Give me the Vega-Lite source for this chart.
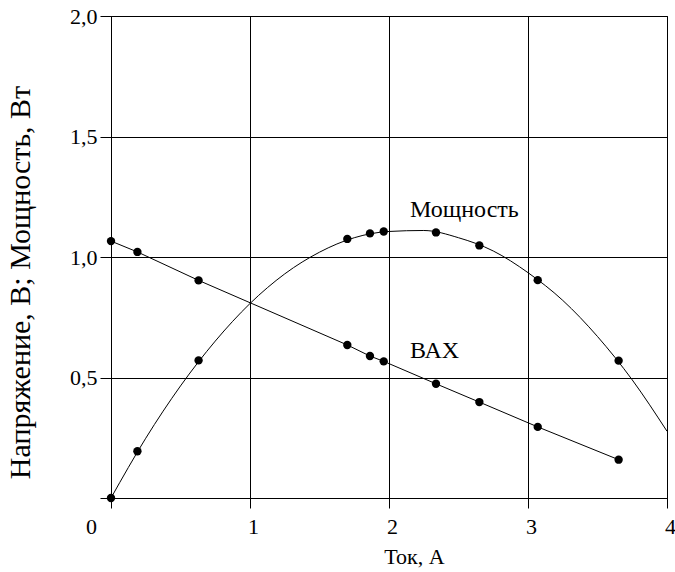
{
  "$schema": "https://vega.github.io/schema/vega-lite/v6.json",
  "autosize": {"type": "none"},
  "padding": {"left": 111, "top": 16, "right": 8, "bottom": 74},
  "width": 556,
  "height": 482,
  "background": "white",
  "config": {
    "font": "'Liberation Serif', 'Times New Roman', Times, serif",
    "view": {"stroke": "black", "strokeWidth": 1},
    "axis": {
      "labelFont": "'Liberation Serif', 'Times New Roman', Times, serif",
      "titleFont": "'Liberation Serif', 'Times New Roman', Times, serif",
      "labelColor": "black",
      "titleColor": "black",
      "titleFontWeight": "normal",
      "domainColor": "black",
      "tickColor": "black",
      "gridColor": "black",
      "gridOpacity": 1,
      "gridWidth": 1,
      "tickWidth": 1,
      "domainWidth": 1
    }
  },
  "datasets": {
    "vax": [
      {"I": 0, "U": 1.066},
      {"I": 0.19, "U": 1.021},
      {"I": 0.63, "U": 0.903},
      {"I": 1.70, "U": 0.635},
      {"I": 1.863, "U": 0.589},
      {"I": 1.962, "U": 0.567},
      {"I": 2.338, "U": 0.474},
      {"I": 2.65, "U": 0.398},
      {"I": 3.07, "U": 0.295},
      {"I": 3.652, "U": 0.159}
    ],
    "power": [
      {"I": 0, "P": 0},
      {"I": 0.19, "P": 0.194},
      {"I": 0.63, "P": 0.571},
      {"I": 1.70, "P": 1.075},
      {"I": 1.863, "P": 1.098},
      {"I": 1.962, "P": 1.106},
      {"I": 2.338, "P": 1.102},
      {"I": 2.65, "P": 1.048},
      {"I": 3.07, "P": 0.904},
      {"I": 3.652, "P": 0.570}
    ],
    "curve": [
      {"I": 0, "P": 0},
      {"I": 0.25, "P": 0.248},
      {"I": 0.5, "P": 0.465},
      {"I": 0.75, "P": 0.651},
      {"I": 1.0, "P": 0.807},
      {"I": 1.25, "P": 0.93},
      {"I": 1.5, "P": 1.02},
      {"I": 1.75, "P": 1.08},
      {"I": 2.0, "P": 1.106},
      {"I": 2.25, "P": 1.11},
      {"I": 2.5, "P": 1.08},
      {"I": 2.75, "P": 1.025},
      {"I": 3.0, "P": 0.935},
      {"I": 3.25, "P": 0.82},
      {"I": 3.5, "P": 0.67},
      {"I": 3.75, "P": 0.49},
      {"I": 4.0, "P": 0.277}
    ],
    "labels": [
      {"I": 2.151, "V": 1.193, "text": "Мощность"},
      {"I": 2.151, "V": 0.612, "text": "ВАХ"}
    ]
  },
  "layer": [
    {
      "data": {"name": "curve"},
      "mark": {"type": "line", "color": "black", "strokeWidth": 1, "interpolate": "monotone"},
      "encoding": {
        "x": {
          "field": "I", "type": "quantitative",
          "scale": {"domain": [0, 4], "nice": false},
          "axis": {
            "values": [0, 1, 2, 3, 4],
            "title": "Ток, А",
            "titleFontSize": 22,
            "titleX": 303,
            "titleY": 65,
            "titleBaseline": "alphabetic",
            "titleAlign": "center",
            "labelFontSize": 22,
            "labelFlush": false,
            "tickSize": 10,
            "labelPadding": 8,
            "labelBaseline": "top",
            "labelOffset": {"condition": {"test": "datum.value == 0", "value": -20}, "value": 3},
            "labelExpr": "format(datum.value, 'd')",
            "grid": true
          }
        },
        "y": {
          "field": "P", "type": "quantitative",
          "scale": {"domain": [0, 2], "nice": false},
          "axis": {
            "values": [0, 0.5, 1, 1.5, 2],
            "title": "Напряжение, В; Мощность, Вт",
            "titleFontSize": 30,
            "titleX": -81.5,
            "titleY": 266,
            "titleBaseline": "alphabetic",
            "titleAlign": "center",
            "titleAngle": -90,
            "labelFontSize": 22,
            "labelFlush": false,
            "tickSize": 11,
            "labelPadding": 3,
            "labelExpr": "datum.value == 0 ? '' : replace(format(datum.value, '.1f'), '.', ',')",
            "grid": true
          }
        }
      }
    },
    {
      "data": {"name": "vax"},
      "mark": {"type": "line", "color": "black", "strokeWidth": 1},
      "encoding": {
        "x": {"field": "I", "type": "quantitative"},
        "y": {"field": "U", "type": "quantitative"}
      }
    },
    {
      "data": {"name": "vax"},
      "mark": {"type": "point", "filled": true, "color": "black", "opacity": 1, "size": 70, "shape": "circle"},
      "encoding": {
        "x": {"field": "I", "type": "quantitative"},
        "y": {"field": "U", "type": "quantitative"}
      }
    },
    {
      "data": {"name": "power"},
      "mark": {"type": "point", "filled": true, "color": "black", "opacity": 1, "size": 70, "shape": "circle"},
      "encoding": {
        "x": {"field": "I", "type": "quantitative"},
        "y": {"field": "P", "type": "quantitative"}
      }
    },
    {
      "data": {"name": "labels"},
      "mark": {"type": "text", "align": "left", "baseline": "middle", "font": "'Liberation Serif', 'Times New Roman', Times, serif", "fontSize": 24, "color": "black"},
      "encoding": {
        "x": {"field": "I", "type": "quantitative"},
        "y": {"field": "V", "type": "quantitative"},
        "text": {"field": "text"}
      }
    }
  ]
}
